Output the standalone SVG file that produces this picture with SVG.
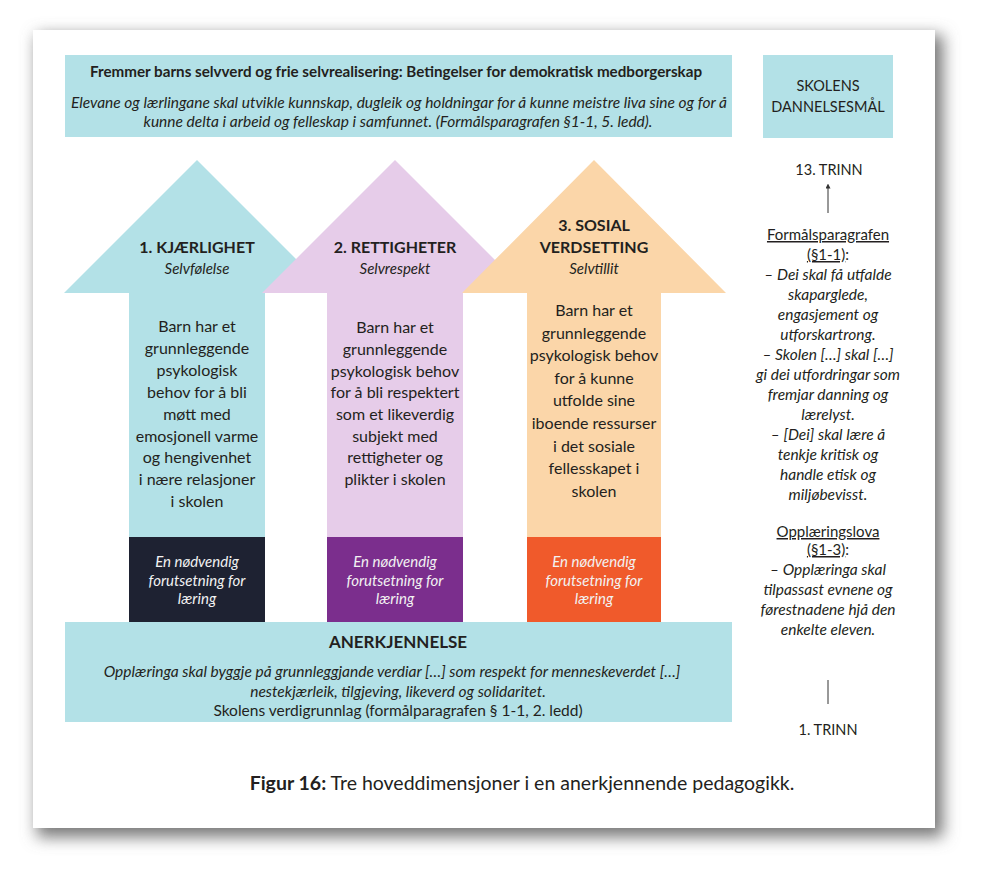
<svg xmlns="http://www.w3.org/2000/svg" width="998" height="890" viewBox="0 0 998 890">
  <defs>
    <filter id="pageShadow" x="-10%" y="-10%" width="120%" height="120%">
      <feGaussianBlur stdDeviation="8"/>
    </filter>
    <marker id="upHead" viewBox="0 0 10 10" refX="5" refY="5" markerWidth="5" markerHeight="5" orient="auto-start-reverse">
      <path d="M0,0 L10,5 L0,10 z" fill="#333"/>
    </marker>
    <style>
      text { font-family: Lato, "Open Sans", "Liberation Sans", sans-serif; fill: #231f20; text-anchor: middle; }
      .hd { font-weight: bold; font-size: 15.2px; }
      .it { font-style: italic; font-size: 15.5px; }
      .body { font-size: 16px; }
      .title { font-weight: bold; font-size: 16px; }
      .sub { font-style: italic; font-size: 15px; }
      .boxt { font-style: italic; font-size: 15px; fill: #f2f2f2; }
      .rc { font-size: 14.5px; }
      .rci { font-style: italic; font-size: 15.5px; }
      .ul { text-decoration: underline; }
      .conn { stroke: #333; stroke-width: 1; fill: none; }
    </style>
  </defs>

  <!-- page with shadow -->
  <rect x="37" y="35" width="906" height="802" fill="#777777" filter="url(#pageShadow)"/>
  <rect x="33" y="30" width="902" height="798" fill="#ffffff"/>

  <g id="top-banner">
    <rect x="65" y="55" width="667" height="82" fill="#b3e1e7"/>
    <text class="hd" x="396" y="77">Fremmer barns selvverd og frie selvrealisering: Betingelser for demokratisk medborgerskap</text>
    <text class="it" x="399" y="108">Elevane og lærlingane skal utvikle kunnskap, dugleik og holdningar for å kunne meistre liva sine og for å</text>
    <text class="it" x="398" y="127">kunne delta i arbeid og felleskap i samfunnet. (Formålsparagrafen §1-1, 5. ledd).</text>
  </g>

  <g id="dannelsesmal-box">
    <rect x="763" y="55" width="130" height="83" fill="#b3e1e7"/>
    <text class="rc" x="828" y="91">SKOLENS</text>
    <text class="rc" x="828" y="112">DANNELSESMÅL</text>
  </g>

  <g id="arrow-kjaerlighet">
    <polygon points="197,160 330,293 265,293 265,622 129,622 129,293 64,293" fill="#b3e1e7"/>
    <rect x="129" y="537" width="136" height="85" fill="#1e2232"/>
    <text class="title" x="197" y="253">1. KJÆRLIGHET</text>
    <text class="sub" x="197" y="274">Selvfølelse</text>
    <text class="body" x="197" y="332">Barn har et</text>
    <text class="body" x="197" y="354">grunnleggende</text>
    <text class="body" x="197" y="376">psykologisk</text>
    <text class="body" x="197" y="398">behov for å bli</text>
    <text class="body" x="197" y="420">møtt med</text>
    <text class="body" x="197" y="442">emosjonell varme</text>
    <text class="body" x="197" y="463">og hengivenhet</text>
    <text class="body" x="197" y="485">i nære relasjoner</text>
    <text class="body" x="197" y="507">i skolen</text>
    <text class="boxt" x="197" y="567">En nødvendig</text>
    <text class="boxt" x="197" y="586">forutsetning for</text>
    <text class="boxt" x="197" y="604">læring</text>
  </g>

  <g id="arrow-rettigheter">
    <polygon points="395,160 528,293 463,293 463,622 327,622 327,293 262,293" fill="#e6cce9"/>
    <rect x="327" y="537" width="136" height="85" fill="#7b2e8d"/>
    <text class="title" x="395" y="253">2. RETTIGHETER</text>
    <text class="sub" x="395" y="274">Selvrespekt</text>
    <text class="body" x="395" y="333">Barn har et</text>
    <text class="body" x="395" y="355">grunnleggende</text>
    <text class="body" x="395" y="377">psykologisk behov</text>
    <text class="body" x="395" y="398">for å bli respektert</text>
    <text class="body" x="395" y="420">som et likeverdig</text>
    <text class="body" x="395" y="442">subjekt med</text>
    <text class="body" x="395" y="463">rettigheter og</text>
    <text class="body" x="395" y="485">plikter i skolen</text>
    <text class="boxt" x="395" y="567">En nødvendig</text>
    <text class="boxt" x="395" y="586">forutsetning for</text>
    <text class="boxt" x="395" y="604">læring</text>
  </g>

  <g id="arrow-sosial-verdsetting">
    <polygon points="594,160 726,293 661,293 661,622 527,622 527,293 462,293" fill="#fbd6a9"/>
    <rect x="527" y="537" width="134" height="85" fill="#f05a2b"/>
    <text class="title" x="594" y="231">3. SOSIAL</text>
    <text class="title" x="594" y="253">VERDSETTING</text>
    <text class="sub" x="594" y="274">Selvtillit</text>
    <text class="body" x="594" y="316">Barn har et</text>
    <text class="body" x="594" y="339">grunnleggende</text>
    <text class="body" x="594" y="361">psykologisk behov</text>
    <text class="body" x="594" y="384">for å kunne</text>
    <text class="body" x="594" y="406">utfolde sine</text>
    <text class="body" x="594" y="429">iboende ressurser</text>
    <text class="body" x="594" y="452">i det sosiale</text>
    <text class="body" x="594" y="474">fellesskapet i</text>
    <text class="body" x="594" y="497">skolen</text>
    <text class="boxt" x="594" y="567">En nødvendig</text>
    <text class="boxt" x="594" y="586">forutsetning for</text>
    <text class="boxt" x="594" y="604">læring</text>
  </g>

  <g id="bottom-banner">
    <rect x="65" y="622" width="667" height="100" fill="#b3e1e7"/>
    <text class="title" x="398" y="648" style="font-size:17px">ANERKJENNELSE</text>
    <text class="it" x="392" y="677">Opplæringa skal byggje på grunnleggjande verdiar […] som respekt for menneskeverdet […]</text>
    <text class="it" x="398" y="697">nestekjærleik, tilgjeving, likeverd og solidaritet.</text>
    <text class="rc" x="398" y="716" style="font-size:15.5px">Skolens verdigrunnlag (formålparagrafen § 1-1, 2. ledd)</text>
  </g>

  <g id="trinn-13">
    <text class="rc" x="829" y="175">13. TRINN</text>
  </g>

  <g id="formalsparagrafen">
    <text class="rc ul" x="828" y="240" style="font-size:15px">Formålsparagrafen</text>
    <text class="rc" x="828" y="260" style="font-size:15px"><tspan class="ul">(§1-1)</tspan>:</text>
    <text class="rci" x="828" y="280">– Dei skal få utfalde</text>
    <text class="rci" x="828" y="300">skaparglede,</text>
    <text class="rci" x="828" y="320">engasjement og</text>
    <text class="rci" x="828" y="340">utforskartrong.</text>
    <text class="rci" x="828" y="360">– Skolen […] skal […]</text>
    <text class="rci" x="828" y="380">gi dei utfordringar som</text>
    <text class="rci" x="828" y="400">fremjar danning og</text>
    <text class="rci" x="828" y="420">lærelyst.</text>
    <text class="rci" x="828" y="440">– [Dei] skal lære å</text>
    <text class="rci" x="828" y="460">tenkje kritisk og</text>
    <text class="rci" x="828" y="480">handle etisk og</text>
    <text class="rci" x="828" y="500">miljøbevisst.</text>
  </g>

  <g id="opplaeringslova">
    <text class="rc ul" x="828" y="537" style="font-size:15px">Opplæringslova</text>
    <text class="rc" x="828" y="555" style="font-size:15px"><tspan class="ul">(§1-3)</tspan>:</text>
    <text class="rci" x="828" y="575">– Opplæringa skal</text>
    <text class="rci" x="828" y="595">tilpassast evnene og</text>
    <text class="rci" x="828" y="615">førestnadene hjå den</text>
    <text class="rci" x="828" y="635">enkelte eleven.</text>
  </g>

  <g id="trinn-1">
    <text class="rc" x="828" y="735">1. TRINN</text>
  </g>

  <g id="connectors">
    <line class="conn" x1="828" y1="213" x2="828" y2="186" marker-end="url(#upHead)"/>
    <line class="conn" x1="828" y1="680" x2="828" y2="704"/>
  </g>

  <g id="caption">
    <text x="522" y="790" style="font-size:19.5px"><tspan font-weight="bold">Figur 16:</tspan> Tre hoveddimensjoner i en anerkjennende pedagogikk.</text>
  </g>
</svg>
